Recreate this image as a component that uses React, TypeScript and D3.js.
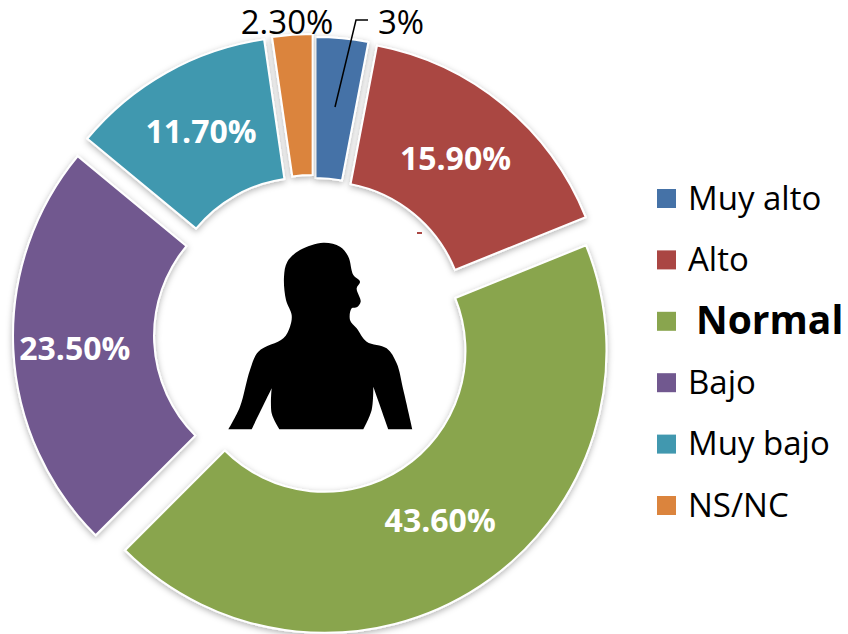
import React from "react";
import * as d3 from "d3";

const categories = ["Muy alto", "Alto", "Normal", "Bajo", "Muy bajo", "NS/NC"];
const values = [3, 15.9, 43.6, 23.5, 11.7, 2.3];
const valueLabels = ["3%", "15.90%", "43.60%", "23.50%", "11.70%", "2.30%"];
const colors = ["#4572a7", "#aa4643", "#89a54e", "#71588f", "#4198af", "#db843d"];

const CX = 314, CY = 335, R = 282, HOLE = 141;
const explode = [16, 16, 19, 19, 19, 19];
const FONT = "'Open Sans', 'Noto Sans', sans-serif";
const labelNudge: [number, number][] = [[0, 0], [-3, -1], [-1, -7], [-9, 3], [0, -3], [0, 0]];

const silhouette: [number, number][] = [
  [55, 628], [55, 628], [90, 560], [120, 450], [145, 395], [220, 355], [240, 320], [245, 285], [228, 240], [222, 170],
  [232, 125], [270, 90], [340, 68], [390, 80], [415, 110], [430, 165], [450, 185], [440, 205], [452, 245],
  [440, 262], [425, 265], [420, 300], [440, 325], [470, 365], [530, 385], [560, 430], [580, 510], [607, 628], [607, 628],
  [535, 628], [535, 628], [490, 500], [490, 500], [485, 570], [460, 628], [460, 628],
  [208, 628], [208, 628], [185, 580], [185, 505], [185, 505], [125, 628], [125, 628], [55, 628], [55, 628],
];

export default function App() {
  const pie = d3.pie<number>().sort(null).value((d) => d)(values);
  const arc = d3.arc<d3.PieArcDatum<number>>().innerRadius(HOLE).outerRadius(R);
  const bodyLine = d3.line<[number, number]>()
    .x((p) => 210 + p[0] / 3)
    .y((p) => 220 + p[1] / 3)
    .curve(d3.curveCatmullRom.alpha(0.5));
  const legendY = d3.scalePoint<string>().domain(categories).range([198.5, 505.5]);

  return (
    <svg width={848} height={634} style={{ position: "absolute", left: 0, top: 0, background: "#fff" }}>
      <defs>
        <filter id="sh" x="-10%" y="-10%" width="120%" height="120%">
          <feDropShadow dx="0" dy="2" stdDeviation="3" floodColor="#000" floodOpacity="0.3" />
        </filter>
      </defs>
      {pie.map((p, i) => {
        const mid = (p.startAngle + p.endAngle) / 2;
        const ox = CX + explode[i] * Math.sin(mid);
        const oy = CY - explode[i] * Math.cos(mid);
        return (
          <g key={categories[i]} transform={`translate(${ox},${oy})`}>
            <path d={arc(p) ?? ""} fill={colors[i]} stroke="#fff" strokeWidth={2} filter="url(#sh)" />
          </g>
        );
      })}
      {pie.map((p, i) => {
        if (i === 0 || i === 5) return null;
        const mid = (p.startAngle + p.endAngle) / 2;
        const [x, y] = arc.centroid(p);
        return (
          <text key={i} x={CX + explode[i] * Math.sin(mid) + x + labelNudge[i][0]}
            y={CY - explode[i] * Math.cos(mid) + y + labelNudge[i][1]} dy="0.36em" textAnchor="middle"
            fontFamily={FONT} fontWeight={700} fontSize={32} fill="#fff">
            {valueLabels[i]}
          </text>
        );
      })}
      <polyline points="335,107 356,20 368,20" fill="none" stroke="#000" strokeWidth={1.5} />
      <text x={287} y={34} textAnchor="middle" fontFamily={FONT} fontSize={33} fill="#000">{valueLabels[5]}</text>
      <text x={378} y={34} fontFamily={FONT} fontSize={33} fill="#000">{valueLabels[0]}</text>
      <path d={bodyLine(silhouette) ?? ""} fill="#000" />
      <rect x={417} y={232} width={5} height={2} fill="#aa4643" />
      {categories.map((c, i) => {
        const y = legendY(c) as number;
        const bold = c === "Normal";
        return (
          <g key={c}>
            <rect x={657} y={y - 9.5} width={19} height={19} fill={colors[i]} />
            <text x={bold ? 696 : 688} y={y + (bold ? 13 : 11)} fontFamily={FONT} fontWeight={bold ? 700 : 400}
              fontSize={bold ? 39 : 33} fill="#000">{c}</text>
          </g>
        );
      })}
    </svg>
  );
}
